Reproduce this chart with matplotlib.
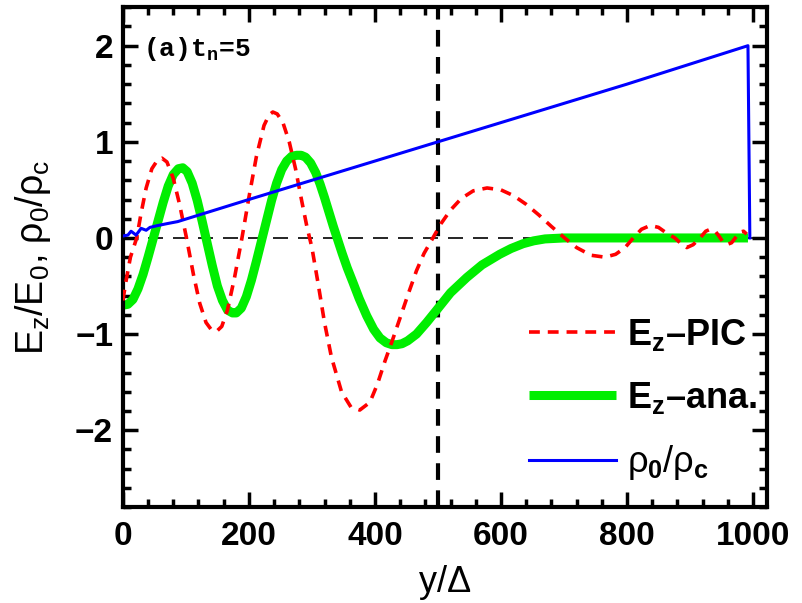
import matplotlib
matplotlib.use('Agg')
import matplotlib.pyplot as plt
from matplotlib.ticker import MultipleLocator

plt.rcParams['font.family'] = ['Liberation Sans', 'DejaVu Sans']
plt.rcParams['mathtext.fontset'] = 'custom'
plt.rcParams['mathtext.rm'] = 'Liberation Sans'
plt.rcParams['mathtext.it'] = 'Liberation Sans'
plt.rcParams['mathtext.bf'] = 'Liberation Sans:bold'
plt.rcParams['mathtext.tt'] = 'Liberation Mono:bold'

# E_z from PIC (red dashed)
pic_y = [0, 5, 12, 22, 29, 37, 46, 55, 62, 70, 80, 90, 101, 112, 122, 132,
         141, 149, 157, 166, 177, 189, 200, 212, 224, 232, 238, 245, 254, 264,
         274, 284, 292, 300, 310, 320, 331, 347, 362, 376, 392, 404, 416, 428,
         440, 453, 466, 478, 492, 505, 520, 537, 556, 578, 600, 620, 640, 660,
         680, 701, 720, 743, 765, 782, 797, 810, 823, 837, 850, 863, 876, 886,
         895, 905, 916, 925, 932, 940, 946, 952, 958, 966, 973, 979, 985, 990]
pic_e = [-0.65, -0.45, -0.2, 0.0, 0.26, 0.52, 0.72, 0.81, 0.83, 0.79, 0.62,
         0.35, 0.0, -0.38, -0.68, -0.88, -0.96, -0.97, -0.92, -0.75, -0.42,
         0.0, 0.42, 0.85, 1.17, 1.28, 1.31, 1.29, 1.20, 1.00, 0.72, 0.38,
         0.12, -0.10, -0.48, -0.88, -1.24, -1.60, -1.76, -1.79, -1.71, -1.52,
         -1.28, -1.06, -0.83, -0.58, -0.34, -0.16, 0.0, 0.15, 0.29, 0.41,
         0.49, 0.52, 0.50, 0.44, 0.35, 0.24, 0.12, 0.0, -0.10, -0.18, -0.20,
         -0.17, -0.10, 0.0, 0.09, 0.13, 0.11, 0.05, 0.0, -0.06, -0.10, -0.07,
         0.0, 0.07, 0.09, 0.07, 0.02, -0.04, -0.07, -0.05, 0.01, 0.06, 0.07,
         0.04]

# E_z analytic (green)
ana_y = [0, 8, 16, 24, 32, 40, 48, 56, 64, 72, 80, 88, 95, 102, 110, 118,
         126, 134, 142, 150, 158, 166, 174, 180, 188, 196, 204, 212, 220, 228,
         236, 244, 252, 260, 268, 276, 283, 290, 298, 306, 313, 320, 327, 334,
         341, 348, 356, 365, 375, 387, 398, 408, 418, 427, 435, 443, 452, 466,
         482, 498, 520, 546, 570, 598, 616, 635, 652, 670, 700, 750, 800, 850,
         900, 950, 992]
ana_e = [-0.70, -0.69, -0.64, -0.53, -0.38, -0.20, -0.01, 0.18, 0.37, 0.54,
         0.66, 0.72, 0.73, 0.69, 0.57, 0.39, 0.17, -0.06, -0.29, -0.50, -0.65,
         -0.75, -0.78, -0.78, -0.73, -0.61, -0.44, -0.24, -0.03, 0.18, 0.39,
         0.57, 0.71, 0.80, 0.85, 0.86, 0.86, 0.84, 0.78, 0.68, 0.56, 0.42,
         0.27, 0.12, -0.02, -0.16, -0.31, -0.46, -0.63, -0.81, -0.95, -1.04,
         -1.09, -1.11, -1.11, -1.10, -1.07, -1.00, -0.88, -0.75, -0.57, -0.41,
         -0.28, -0.17, -0.11, -0.06, -0.03, -0.01, 0.0, 0.0, 0.0, 0.0, 0.0,
         0.0, 0.0]

# rho_0 / rho_c (blue)
rho_y = [0, 8, 13, 21, 29, 37, 43, 56, 71, 87, 200, 500, 800, 992, 995]
rho_v = [0.02, 0.03, 0.07, 0.03, 0.10, 0.08, 0.11, 0.13, 0.15, 0.17, 0.40,
         1.00, 1.60, 2.00, 0.0]

fig = plt.figure(figsize=(8.03, 6.03), dpi=100)
ax = fig.add_axes([0.153, 0.159, 0.802, 0.829])

ax.axhline(0, color='black', lw=1.2, dashes=(9, 6), zorder=1)
ax.axvline(500, color='black', lw=3.0, dashes=(4, 2.5), zorder=1)

ax.plot(pic_y, pic_e, color='red', lw=2.6, dashes=(3, 2.2),
        label=r'$\mathbf{E_z}$–PIC', zorder=3)
ax.plot(ana_y, ana_e, color='#00ee00', lw=6.5, solid_capstyle='butt',
        label=r'$\mathbf{E_z}$–ana.', zorder=2)
ax.plot(rho_y, rho_v, color='blue', lw=2.2,
        label=r'$\rho_\mathbf{0}/\rho_\mathbf{c}$', zorder=4)

ax.set_xlim(0, 1022)
ax.set_ylim(-2.8, 2.4)
ax.xaxis.set_major_locator(MultipleLocator(200))
ax.xaxis.set_minor_locator(MultipleLocator(40))
ax.yaxis.set_major_locator(MultipleLocator(1))
ax.yaxis.set_minor_locator(MultipleLocator(0.2))
ax.tick_params(which='both', direction='in', top=True, right=True, width=2.5)
ax.tick_params(which='major', length=11, labelsize=24)
ax.tick_params(axis='x', which='major', pad=10)
ax.tick_params(axis='y', which='major', pad=7)
ax.tick_params(which='minor', length=6)
for lbl in ax.get_xticklabels():
    lbl.set_fontweight('bold')
ax.set_yticks([-2, -1, 0, 1, 2])
ax.set_yticklabels(['\u22122', '\u22121', '0', '1', '2'], fontweight='bold')
for s in ax.spines.values():
    s.set_linewidth(3)

ax.set_xlabel(r'y/$\Delta$', fontsize=26, labelpad=8)
ax.set_ylabel(r'E$_z$/E$_0$, $\rho_0/\rho_c$', fontsize=27, labelpad=16)

ax.text(0.031, 0.945, r'(a)t$_\mathtt{n}$=5', transform=ax.transAxes,
        family='Liberation Mono', fontweight='bold', fontsize=19, va='top')

ax.legend(loc='lower right', frameon=False,
          prop={'weight': 'bold', 'size': 26}, handlelength=2.4,
          labelspacing=0.76, handletextpad=0.3, borderaxespad=0.2,
          bbox_to_anchor=(1.018, 0.006))

fig.savefig('out.png', dpi=100)
